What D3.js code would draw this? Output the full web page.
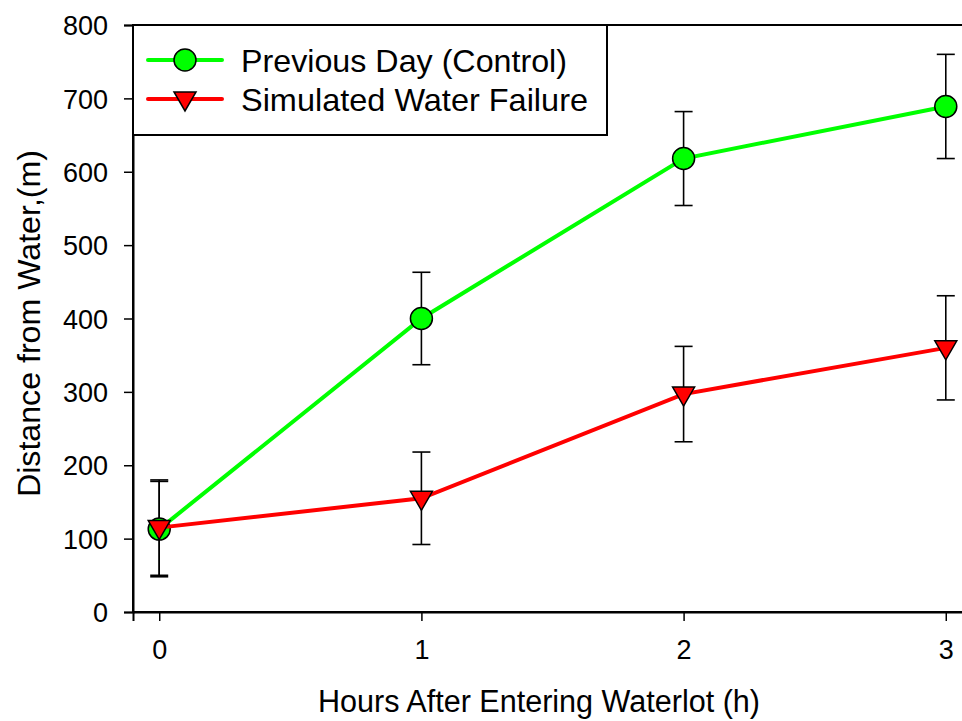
<!DOCTYPE html>
<html>
<head>
<meta charset="utf-8">
<script src="https://cdn.jsdelivr.net/npm/d3@7"></script>
<style>
body { margin: 0; background: #fff; }
text { font-family: "Liberation Sans", Arial, sans-serif; fill: #000; }
</style>
</head>
<body>
<script>
var hours = [0, 1, 2, 3];
var controlMean = [113, 400, 618, 689];
var controlErr = [65, 63, 64, 71];
var failureMean = [115, 155, 297, 360];
var failureErr = [65, 63, 65, 71];
var yTicks = [0, 100, 200, 300, 400, 500, 600, 700, 800];
var seriesNames = ["Previous Day (Control)", "Simulated Water Failure"];

var w = 962, h = 721;
var margin = {top: 25, left: 133, bottom: 612, right: 972};

var svg = d3.select("body").append("svg")
	.attr("width", w)
	.attr("height", h);

var x = d3.scaleLinear().domain([-0.1, 3.1]).range([margin.left, margin.right]);
var y = d3.scaleLinear().domain([0, 800]).range([margin.bottom, margin.top]);

// frame
svg.append("rect")
	.attr("x", margin.left).attr("y", margin.top)
	.attr("width", margin.right - margin.left)
	.attr("height", margin.bottom - margin.top)
	.attr("fill", "none").attr("stroke", "#000").attr("stroke-width", 2);

// y axis
var yAxis = svg.append("g")
	.attr("transform", "translate(" + margin.left + ",0)")
	.call(d3.axisLeft(y).tickValues(yTicks).tickSize(9).tickPadding(16));
yAxis.select(".domain").attr("stroke-width", 2);
yAxis.selectAll(".tick line").attr("stroke-width", 1.5);
yAxis.selectAll("text").style("font-size", "27px").attr("dy", "0.36em");

// x axis
var xAxis = svg.append("g")
	.attr("transform", "translate(0," + margin.bottom + ")")
	.call(d3.axisBottom(x).tickValues(hours).tickFormat(d3.format("d")).tickSize(9).tickPadding(19));
xAxis.select(".domain").attr("stroke-width", 2);
xAxis.selectAll(".tick line").attr("stroke-width", 1.5);
xAxis.selectAll("text").style("font-size", "27px");

svg.append("text")
	.attr("x", 318).attr("y", 712)
	.attr("textLength", 442).attr("lengthAdjust", "spacingAndGlyphs")
	.style("font-size", "31px")
	.text("Hours After Entering Waterlot (h)");

svg.append("text")
	.attr("transform", "translate(40,497) rotate(-90)")
	.attr("textLength", 347).attr("lengthAdjust", "spacingAndGlyphs")
	.style("font-size", "31px")
	.text("Distance from Water,(m)");

var series = [
	{mean: controlMean, err: controlErr, color: "#00ff00", shape: "circle"},
	{mean: failureMean, err: failureErr, color: "#ff0000", shape: "tri"}
];

var line = d3.line().x(d => x(d[0])).y(d => y(d[1]));

function marker(g, shape, color) {
	if (shape == "circle") {
		g.append("circle").attr("r", 11)
			.attr("fill", color).attr("stroke", "#000").attr("stroke-width", 1.5);
	} else {
		g.append("path").attr("d", "M-11,-7 L11,-7 L0,12 Z")
			.attr("fill", color).attr("stroke", "#000").attr("stroke-width", 1.5);
	}
}

// error bars first
series.forEach(function(s) {
	var pts = hours.map((hr, i) => [hr, s.mean[i], s.err[i]]);
	var eb = svg.append("g").attr("stroke", "#000").attr("stroke-width", 1.6);
	pts.forEach(function(p) {
		var cx = x(p[0]);
		eb.append("line").attr("x1", cx).attr("x2", cx).attr("y1", y(p[1] + p[2])).attr("y2", y(p[1] - p[2]));
		eb.append("line").attr("x1", cx - 9).attr("x2", cx + 9).attr("y1", y(p[1] + p[2])).attr("y2", y(p[1] + p[2]));
		eb.append("line").attr("x1", cx - 9).attr("x2", cx + 9).attr("y1", y(p[1] - p[2])).attr("y2", y(p[1] - p[2]));
	});
});

series.forEach(function(s) {
	var pts = hours.map((hr, i) => [hr, s.mean[i]]);
	svg.append("path").datum(pts)
		.attr("d", line)
		.attr("fill", "none").attr("stroke", s.color).attr("stroke-width", 4);
	pts.forEach(function(p) {
		var g = svg.append("g").attr("transform", "translate(" + x(p[0]) + "," + y(p[1]) + ")");
		marker(g, s.shape, s.color);
	});
});

// legend
var lg = svg.append("g");
lg.append("rect")
	.attr("x", margin.left).attr("y", margin.top)
	.attr("width", 474).attr("height", 110)
	.attr("fill", "#fff").attr("stroke", "#000").attr("stroke-width", 2);
var legendLen = [326, 347];
seriesNames.forEach(function(name, i) {
	var ly = 60 + i * 39;
	lg.append("line").attr("x1", 148).attr("x2", 222).attr("y1", ly).attr("y2", ly)
		.attr("stroke", series[i].color).attr("stroke-width", 4).attr("stroke-linecap", "round");
	var g = lg.append("g").attr("transform", "translate(185," + ly + ")");
	marker(g, series[i].shape, series[i].color);
	lg.append("text").attr("x", 241).attr("y", ly).attr("dy", "0.36em")
		.attr("textLength", legendLen[i]).attr("lengthAdjust", "spacingAndGlyphs")
		.style("font-size", "32px").text(name);
});
</script>
</body>
</html>
